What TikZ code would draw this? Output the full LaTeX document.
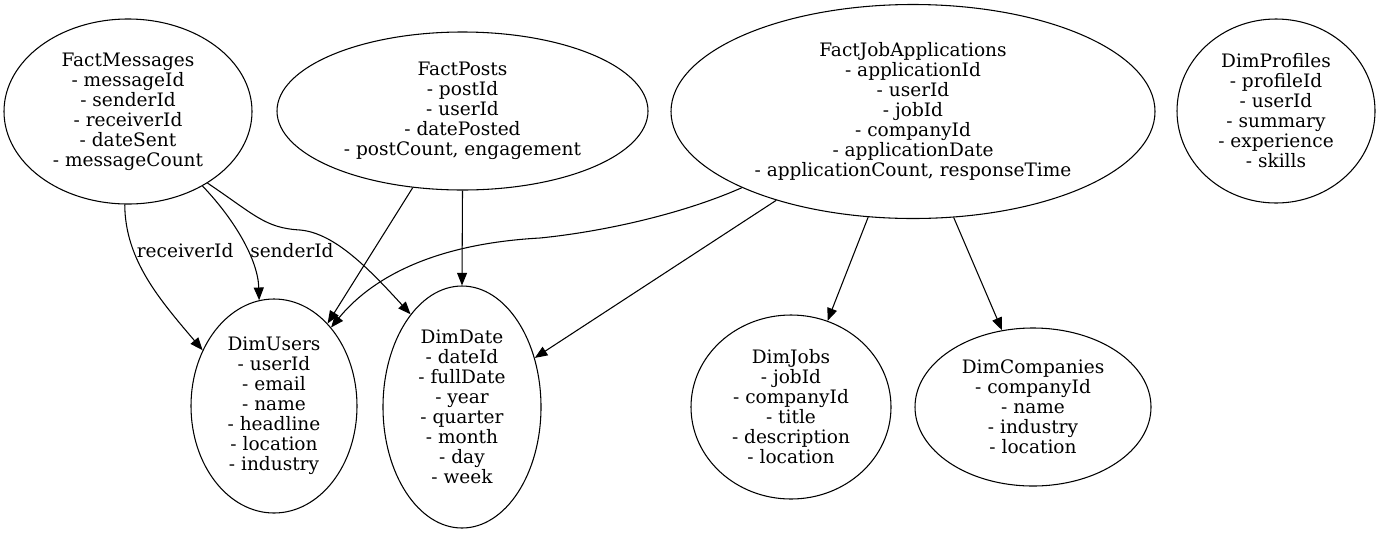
\documentclass[tikz,border=0pt]{standalone}
\usepackage{fontspec}
\setmainfont{DejaVu Serif}
\usetikzlibrary{shapes.geometric,arrows.meta}
\tikzset{
  tbl/.style={draw, ellipse, line width=0.8pt, inner sep=0pt, align=center, font=\fontsize{13.9}{15}\selectfont},
  lnk/.style={line width=0.8pt, -{Triangle[length=9.5pt,width=7.5pt]}},
  lbl/.style={font=\fontsize{13.9}{15}\selectfont, inner sep=2pt}
}
\begin{document}
\begin{tikzpicture}[x=0.75pt,y=-0.75pt]
  \useasboundingbox (0,0) rectangle (1380,533);
  % fact tables
  \node[tbl, minimum width=186pt, minimum height=138.75pt] (fmsg) at (128,111.5)
    {FactMessages\\- messageId\\- senderId\\- receiverId\\- dateSent\\- messageCount};
  \node[tbl, minimum width=278.25pt, minimum height=118.5pt] (fpost) at (462.5,111)
    {FactPosts\\- postId\\- userId\\- datePosted\\- postCount, engagement};
  \node[tbl, minimum width=363pt, minimum height=160.5pt] (fjob) at (913,111.5)
    {FactJobApplications\\- applicationId\\- userId\\- jobId\\- companyId\\- applicationDate\\- applicationCount, responseTime};
  \node[tbl, minimum width=148.5pt, minimum height=138pt] (dprof) at (1276,111)
    {DimProfiles\\- profileId\\- userId\\- summary\\- experience\\- skills};
  % dimension tables
  \node[tbl, minimum width=124.5pt, minimum height=160.5pt] (dusr) at (274,406)
    {DimUsers\\- userId\\- email\\- name\\- headline\\- location\\- industry};
  \node[tbl, minimum width=118.5pt, minimum height=181.5pt] (ddate) at (462,407)
    {DimDate\\- dateId\\- fullDate\\- year\\- quarter\\- month\\- day\\- week};
  \node[tbl, minimum width=150pt, minimum height=138pt] (djob) at (791,407)
    {DimJobs\\- jobId\\- companyId\\- title\\- description\\- location};
  \node[tbl, minimum width=177pt, minimum height=118.5pt] (dcomp) at (1033,407)
    {DimCompanies\\- companyId\\- name\\- industry\\- location};
  % links
  \draw[lnk] (fmsg.268) .. controls (125,260) and (160,300) .. (dusr.142)
    node[lbl, pos=0.3, right] {receiverId};
  \draw[lnk] (fmsg.315.6) .. controls (235,220) and (258,260) .. (dusr.98)
    node[lbl, pos=0.58, right] {senderId};
  \draw[lnk] (fmsg.318.6) .. controls (255,215) and (265,228) .. (300,230)
    .. controls (335,233) and (370,270) .. (ddate.119.5);
  \draw[lnk] (fpost.237.8) -- (dusr.57);
  \draw[lnk] (fpost.270) -- (ddate.90);
  \draw[lnk] (fjob.204.1) .. controls (680,215) and (600,232) .. (540,238)
    .. controls (430,244) and (370,280) .. (dusr.54);
  \draw[lnk] (fjob.213.3) -- (ddate.34.6);
  \draw[lnk] (fjob.247.4) -- (djob.67.5);
  \draw[lnk] (fjob.291.7) -- (dcomp.112.5);
\end{tikzpicture}
\end{document}
